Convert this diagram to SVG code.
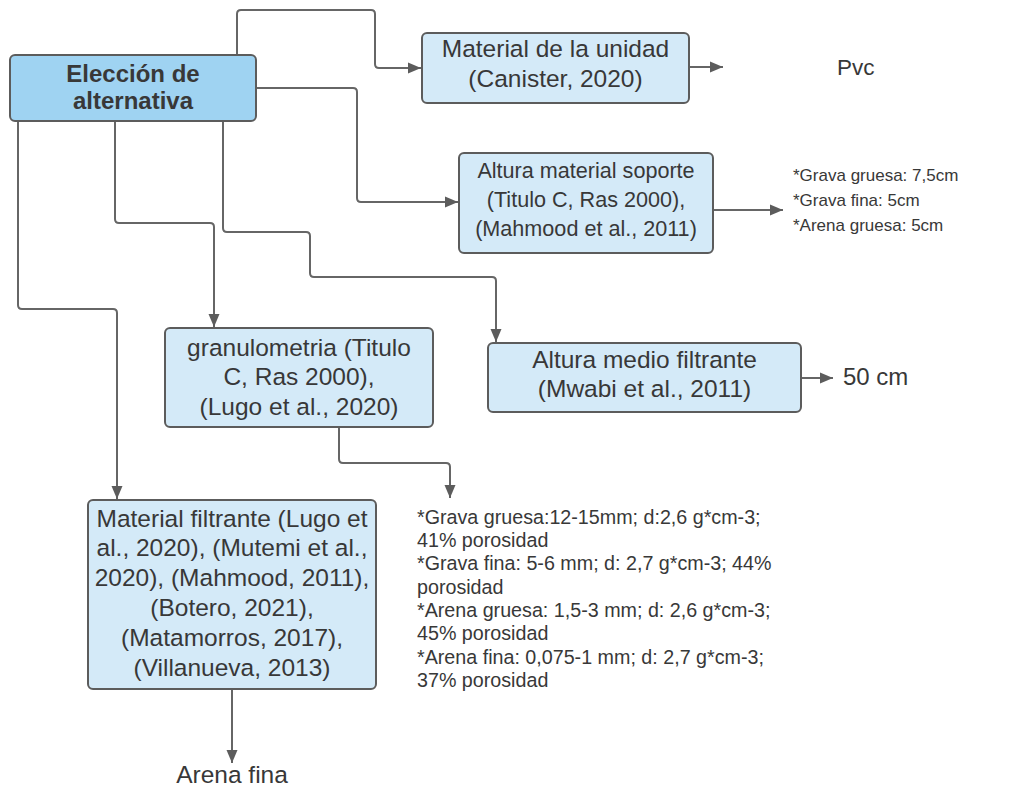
<svg xmlns="http://www.w3.org/2000/svg" width="1034" height="787" viewBox="0 0 1034 787">
<style>
.box{fill:#d4eaf8;stroke:#5c5c5c;stroke-width:2}
.main{fill:#9fd3f2;stroke:#5c5c5c;stroke-width:2}
.t{font-family:"Liberation Sans",Arial,sans-serif;fill:#383838;font-size:24.5px;text-anchor:middle}
.b{font-weight:bold;font-size:24px}
.m{font-size:21.6px}
.s{font-family:"Liberation Sans",Arial,sans-serif;fill:#383838}
.c{fill:none;stroke:#666;stroke-width:2}
</style>
<defs>
<marker id="ah" markerUnits="userSpaceOnUse" markerWidth="14" markerHeight="12" refX="13" refY="6" orient="auto">
<path d="M0,0.5 L13,6 L0,11.5 Z" fill="#5c5c5c"/>
</marker>
</defs>
<rect width="1034" height="787" fill="#fff"/>
<g id="connectors">
<path class="c" marker-end="url(#ah)" d="M237,55 V14 Q237,10 241,10 H371 Q375,10 375,14 V64 Q375,68 379,68 H421"/>
<path class="c" marker-end="url(#ah)" d="M689,67 H723"/>
<path class="c" marker-end="url(#ah)" d="M256,88 H353 Q357,88 357,92 V198 Q357,202 361,202 H458"/>
<path class="c" marker-end="url(#ah)" d="M713,210 H783"/>
<path class="c" marker-end="url(#ah)" d="M18,121 V305 Q18,309 22,309 H113 Q117,309 117,313 V499"/>
<path class="c" marker-end="url(#ah)" d="M115,121 V219 Q115,223 119,223 H210 Q214,223 214,227 V327"/>
<path class="c" marker-end="url(#ah)" d="M223,121 V228 Q223,232 227,232 H306 Q310,232 310,236 V273 Q310,277 314,277 H492 Q496,277 496,281 V342"/>
<path class="c" marker-end="url(#ah)" d="M801,378 H833"/>
<path class="c" marker-end="url(#ah)" d="M339,427 V459 Q339,463 343,463 H446 Q450,463 450,467 V498"/>
<path class="c" marker-end="url(#ah)" d="M232,689 V763"/>
</g>
<g id="eleccion">
<rect class="main" x="10" y="55" width="246" height="66" rx="5"/>
<text class="t b" x="133" y="82">Elección de</text>
<text class="t b" x="133" y="109">alternativa</text>
</g>
<g id="material-unidad">
<rect class="box" x="422" y="33" width="267" height="70" rx="5"/>
<text class="t" x="555.5" y="57">Material de la unidad</text>
<text class="t" x="555.5" y="87">(Canister, 2020)</text>
</g>
<g id="pvc">
<text class="s" x="837" y="75" font-size="22.5">Pvc</text>
</g>
<g id="altura-soporte">
<rect class="box" x="459" y="153" width="254" height="100" rx="5"/>
<text class="t m" x="586" y="178">Altura material soporte</text>
<text class="t m" x="586" y="207">(Titulo C, Ras 2000),</text>
<text class="t m" x="586" y="236">(Mahmood et al., 2011)</text>
</g>
<g id="soporte-valores">
<text class="s" font-size="17" x="793" y="181">*Grava gruesa: 7,5cm</text>
<text class="s" font-size="17" x="793" y="206">*Grava fina: 5cm</text>
<text class="s" font-size="17" x="793" y="231">*Arena gruesa: 5cm</text>
</g>
<g id="granulometria">
<rect class="box" x="165" y="328" width="268" height="99" rx="5"/>
<text class="t" x="299" y="356">granulometria (Titulo</text>
<text class="t" x="299" y="385">C, Ras 2000),</text>
<text class="t" x="299" y="415">(Lugo et al., 2020)</text>
</g>
<g id="altura-medio">
<rect class="box" x="488" y="343" width="313" height="69" rx="5"/>
<text class="t" x="644.5" y="368">Altura medio filtrante</text>
<text class="t" x="644.5" y="397">(Mwabi et al., 2011)</text>
</g>
<g id="cm50">
<text class="s" font-size="24" x="843" y="385">50 cm</text>
</g>
<g id="granulometria-valores">
<text class="s" font-size="19.7" x="417" y="524">*Grava gruesa:12-15mm; d:2,6 g*cm-3;</text>
<text class="s" font-size="19.7" x="417" y="547">41% porosidad</text>
<text class="s" font-size="19.7" x="417" y="570">*Grava fina: 5-6 mm; d: 2,7 g*cm-3; 44%</text>
<text class="s" font-size="19.7" x="417" y="594">porosidad</text>
<text class="s" font-size="19.7" x="417" y="617">*Arena gruesa: 1,5-3 mm; d: 2,6 g*cm-3;</text>
<text class="s" font-size="19.7" x="417" y="640">45% porosidad</text>
<text class="s" font-size="19.7" x="417" y="664">*Arena fina: 0,075-1 mm; d: 2,7 g*cm-3;</text>
<text class="s" font-size="19.7" x="417" y="687">37% porosidad</text>
</g>
<g id="material-filtrante">
<rect class="box" x="88" y="500" width="288" height="189" rx="5"/>
<text class="t" x="232" y="527">Material filtrante (Lugo et</text>
<text class="t" x="232" y="556">al., 2020), (Mutemi et al.,</text>
<text class="t" x="232" y="586">2020), (Mahmood, 2011),</text>
<text class="t" x="232" y="616">(Botero, 2021),</text>
<text class="t" x="232" y="646">(Matamorros, 2017),</text>
<text class="t" x="232" y="676">(Villanueva, 2013)</text>
</g>
<g id="arena-fina">
<text class="t" x="232" y="783" font-size="24">Arena fina</text>
</g>
</svg>
